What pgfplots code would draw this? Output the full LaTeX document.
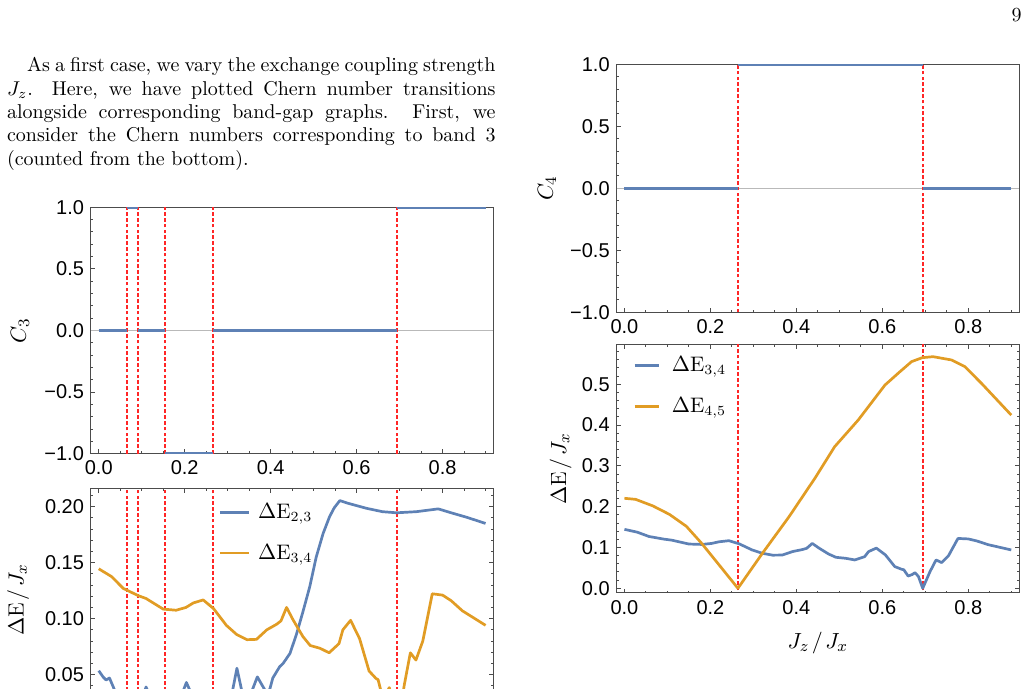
\documentclass[border=0pt]{standalone}
\usepackage{pgfplots}
\pgfplotsset{compat=1.18}
\usepackage{pgfplotstable}
\usepackage{fontspec}
\newfontfamily\ticksans{Liberation Sans}

\definecolor{mblue}{rgb}{0.368417,0.506779,0.709798}
\definecolor{morange}{rgb}{0.880722,0.611041,0.142051}
\definecolor{framegray}{gray}{0.3}
\definecolor{dashred}{rgb}{1,0.15,0.15}

% Chern number of band 3 (nan rows break the line between plateaus)
\pgfplotstableread{
x y
0.000 0
0.066 0
0.066 nan
0.066 1
0.092 1
0.092 nan
0.092 0
0.155 0
0.155 nan
0.155 -1
0.266 -1
0.266 nan
0.266 0
0.694 0
0.694 nan
0.694 1
0.900 1
}\cthree

% Chern number of band 4
\pgfplotstableread{
x y
0.000 0
0.264 0
0.264 nan
0.264 1
0.694 1
0.694 nan
0.694 0
0.900 0
}\cfour

% gap between bands 2 and 3
\pgfplotstableread{
x y
0.000 0.0535
0.010 0.0480
0.017 0.0452
0.025 0.0470
0.036 0.0370
0.050 0.0200
0.066 0.0000
0.080 0.0150
0.092 0.0000
0.103 0.0300
0.110 0.0390
0.120 0.0300
0.155 0.0000
0.180 0.0250
0.197 0.0360
0.204 0.0430
0.212 0.0360
0.240 0.0200
0.266 0.0000
0.290 0.0200
0.312 0.0370
0.3215 0.0557
0.332 0.0370
0.345 0.0250
0.358 0.0370
0.369 0.0480
0.378 0.0420
0.390 0.0340
0.398 0.0370
0.405 0.0470
0.421 0.0571
0.429 0.0600
0.445 0.0690
0.460 0.0860
0.475 0.1060
0.491 0.1286
0.506 0.1550
0.522 0.1760
0.537 0.1910
0.548 0.1990
0.561 0.2054
0.580 0.2030
0.623 0.1985
0.660 0.1955
0.693 0.1945
0.739 0.1955
0.790 0.1980
0.820 0.1945
0.856 0.1905
0.900 0.1850
}\gaptwothree

% gap between bands 3 and 4
\pgfplotstableread{
x y
0.000 0.1445
0.030 0.1375
0.057 0.1270
0.092 0.1205
0.110 0.1180
0.150 0.1085
0.180 0.1075
0.203 0.1100
0.220 0.1140
0.243 0.1167
0.267 0.1090
0.297 0.0940
0.321 0.0858
0.345 0.0812
0.367 0.0815
0.391 0.0900
0.414 0.0950
0.424 0.0980
0.437 0.1100
0.452 0.0990
0.475 0.0840
0.492 0.0760
0.515 0.0735
0.536 0.0695
0.559 0.0777
0.568 0.0900
0.586 0.0985
0.607 0.0820
0.629 0.0532
0.645 0.0466
0.650 0.0455
0.660 0.0300
0.670 0.0340
0.676 0.0384
0.684 0.0290
0.694 0.0000
0.711 0.0410
0.725 0.0695
0.738 0.0630
0.754 0.0800
0.776 0.1222
0.800 0.1210
0.820 0.1160
0.846 0.1070
0.871 0.1010
0.900 0.0940
}\gapthreefour

% gap between bands 4 and 5
\pgfplotstableread{
x y
0.000 0.2206
0.026 0.2180
0.066 0.2020
0.105 0.1810
0.144 0.1520
0.179 0.1110
0.222 0.0550
0.264 0.0000
0.321 0.0858
0.383 0.1755
0.443 0.2695
0.489 0.3470
0.544 0.4125
0.606 0.4980
0.640 0.5300
0.668 0.5555
0.693 0.5653
0.718 0.5677
0.761 0.5596
0.792 0.5432
0.831 0.5020
0.900 0.4245
}\gapfourfive

\pgfplotsset{
  mframe/.style={
    scale only axis, width=201.15pt,
    xmin=-0.018, xmax=0.918,
    axis line style={framegray, line width=0.5pt},
    tick style={framegray, line width=0.5pt},
    tick align=inside,
    major tick length=2.2pt, minor tick length=1.2pt,
    xtick={0,0.2,0.4,0.6,0.8}, xticklabels={0.0,0.2,0.4,0.6,0.8},
    minor xtick={0.05,0.1,0.15,0.25,0.3,0.35,0.45,0.5,0.55,0.65,0.7,0.75,0.85,0.9},
    ticklabel style={font=\ticksans\fontsize{10}{12}\selectfont, text=black},
    label style={font=\fontsize{11}{13}\selectfont},
  },
  chern/.style={
    mframe, tick pos=left,
    ymin=-1, ymax=1,
    ytick={-1,-0.5,0,0.5,1}, yticklabels={−1.0,−0.5,0.0,0.5,1.0},
    minor ytick={-0.9,-0.8,-0.7,-0.6,-0.4,-0.3,-0.2,-0.1,0.1,0.2,0.3,0.4,0.6,0.7,0.8,0.9},
  },
  chernstep/.style={color=mblue, line width=1.7pt, unbounded coords=jump},
  gapline/.style={line width=1.35pt, line join=round},
  crossing/.style={color=dashred, line width=0.9pt, dash pattern=on 1.8pt off 1.1pt, forget plot},
  gaplegend/.style={
    legend cell align=left,
    legend style={draw=none, fill=none, inner sep=0pt, row sep=11.5pt, column sep=4pt,
      nodes={inner sep=0pt, font=\fontsize{10.5}{12}\selectfont}},
  },
}

\begin{document}
\begin{tikzpicture}
\useasboundingbox (0pt,0pt) rectangle (514pt,-344.5pt);
\clip (0pt,0pt) rectangle (514pt,-344.5pt);

\node[anchor=base] at (508.3pt,-10.85pt) {\fontsize{10}{12}\selectfont 9};
\node[anchor=base west, inner sep=0pt] at (3.3pt,-36pt) {\parbox[t]{244.3pt}{\fontsize{10}{11.65}\selectfont
\hspace*{10pt}As a first case, we vary the exchange coupling strength\linebreak
$J_z$. Here, we have plotted Chern number transitions\linebreak
alongside corresponding band-gap graphs. First, we\linebreak
consider the Chern numbers corresponding to band 3\linebreak
(counted from the bottom).}};

% C_3 versus J_z
\begin{axis}[chern, at={(45.5pt,-226.85pt)}, anchor=south west, height=123.2pt,
  ylabel={$C_3$}, ylabel style={at={(axis description cs:-0.1765,0.5)}, anchor=center}]
\addplot[color=gray!55, line width=0.5pt, forget plot] coordinates {(-0.018,0) (0.918,0)};
\addplot[crossing] coordinates {(0.066,-1) (0.066,1)};
\addplot[crossing] coordinates {(0.092,-1) (0.092,1)};
\addplot[crossing] coordinates {(0.155,-1) (0.155,1)};
\addplot[crossing] coordinates {(0.266,-1) (0.266,1)};
\addplot[crossing] coordinates {(0.694,-1) (0.694,1)};
\addplot[chernstep] table {\cthree};
\end{axis}

% band gaps around band 3
\begin{axis}[mframe, gaplegend, at={(45.5pt,-355.8pt)}, anchor=south west, height=111.66pt,
  ymin=0.017, ymax=0.2164,
  ytick={0.05,0.1,0.15,0.2}, yticklabels={0.05,0.10,0.15,0.20},
  minor ytick={0.02,0.03,0.04,0.06,0.07,0.08,0.09,0.11,0.12,0.13,0.14,0.16,0.17,0.18,0.19,0.21},
  ylabel={$\Delta\mathrm{E}\mkern2mu/\mkern2mu J_x$}, ylabel style={at={(axis description cs:-0.181,0.5)}, anchor=center},
  legend style={at={(axis description cs:0.3157,0.935)}, anchor=north west},
  legend image code/.code={\draw[#1] (0pt,0pt) -- (14.5pt,0pt);}]
\addplot[crossing] coordinates {(0.066,-1) (0.066,1)};
\addplot[crossing] coordinates {(0.092,-1) (0.092,1)};
\addplot[crossing] coordinates {(0.155,-1) (0.155,1)};
\addplot[crossing] coordinates {(0.266,-1) (0.266,1)};
\addplot[crossing] coordinates {(0.694,-1) (0.694,1)};
\addplot[gapline, color=mblue] table {\gaptwothree};
\addlegendentry{$\Delta\mathrm{E}_{2,3}$}
\addplot[gapline, color=morange] table {\gapthreefour};
\addlegendentry{$\Delta\mathrm{E}_{3,4}$}
\end{axis}

% C_4 versus J_z
\begin{axis}[chern, at={(308.35pt,-156.15pt)}, anchor=south west, height=124pt,
  ylabel={$C_4$}, ylabel style={at={(axis description cs:-0.1733,0.5)}, anchor=center}]
\addplot[color=gray!55, line width=0.5pt, forget plot] coordinates {(-0.018,0) (0.918,0)};
\addplot[crossing] coordinates {(0.264,-1) (0.264,1)};
\addplot[crossing] coordinates {(0.694,-1) (0.694,1)};
\addplot[chernstep] table {\cfour};
\end{axis}

% band gaps around band 4
\begin{axis}[mframe, gaplegend, at={(308.35pt,-296.5pt)}, anchor=south west, height=124pt,
  ymin=-0.0115, ymax=0.5963,
  ytick={0,0.1,0.2,0.3,0.4,0.5}, yticklabels={0.0,0.1,0.2,0.3,0.4,0.5},
  minor ytick={0.02,0.04,0.06,0.08,0.12,0.14,0.16,0.18,0.22,0.24,0.26,0.28,0.32,0.34,0.36,0.38,0.42,0.44,0.46,0.48,0.52,0.54,0.56,0.58},
  xlabel={$J_z\mkern2mu/\mkern2mu J_x$}, xlabel style={at={(axis description cs:0.5,-0.2016)}, anchor=center},
  ylabel={$\Delta\mathrm{E}\mkern2mu/\mkern2mu J_x$}, ylabel style={at={(axis description cs:-0.1392,0.5)}, anchor=center},
  legend style={at={(axis description cs:0.04,0.955)}, anchor=north west, column sep=6pt},
  legend image code/.code={\draw[#1] (0pt,0pt) -- (12pt,0pt);}]
\addplot[crossing] coordinates {(0.264,-1) (0.264,1)};
\addplot[crossing] coordinates {(0.694,-1) (0.694,1)};
\addplot[gapline, color=mblue] table {\gapthreefour};
\addlegendentry{$\Delta\mathrm{E}_{3,4}$}
\addplot[gapline, color=morange] table {\gapfourfive};
\addlegendentry{$\Delta\mathrm{E}_{4,5}$}
\end{axis}
\end{tikzpicture}
\end{document}
